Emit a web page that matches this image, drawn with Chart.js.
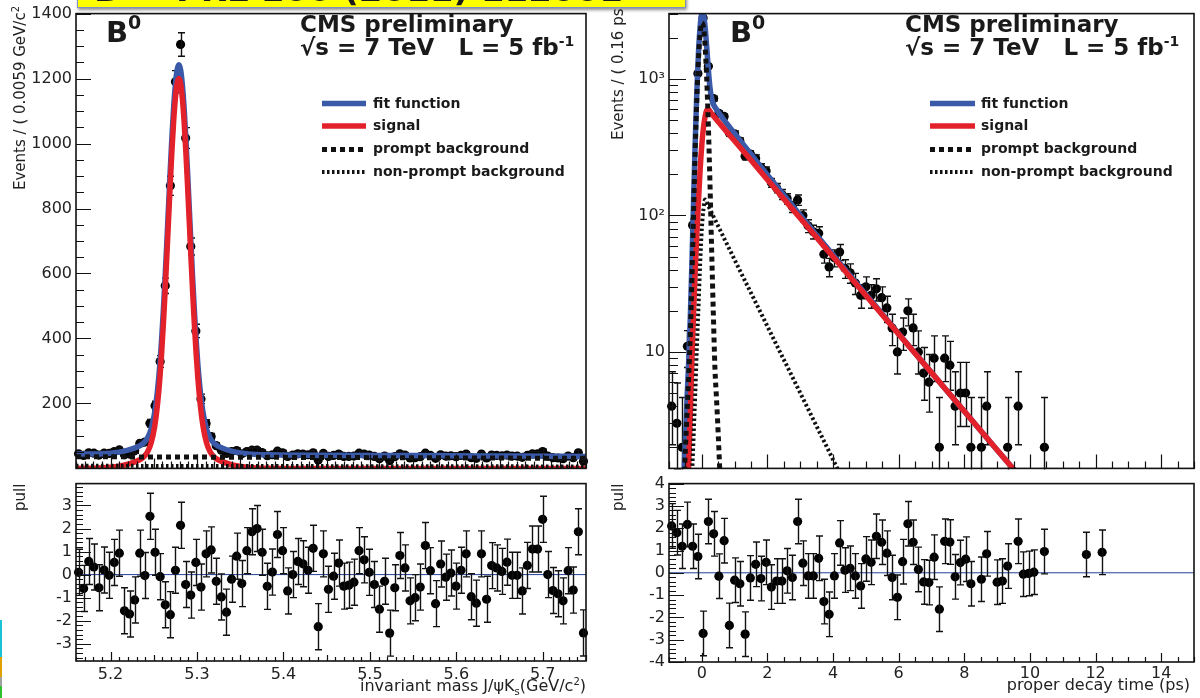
<!DOCTYPE html>
<html>
<head>
<meta charset="utf-8">
<title>B0 invariant mass and proper decay time fits</title>
<script src="https://cdn.jsdelivr.net/npm/chart.js@4.4.1/dist/chart.umd.min.js"></script>
<style>
  html, body { margin: 0; padding: 0; background: #fff; }
  #page { position: relative; width: 1200px; height: 698px; overflow: hidden; background: #fff;
          font-family: "DejaVu Sans", "Liberation Sans", sans-serif; color: #1a1a1a; }
  #page canvas { position: absolute; }
  .txt { position: absolute; white-space: nowrap; line-height: 1; }
  .bold { font-weight: bold; }
  .vtitle { position: absolute; white-space: nowrap; font-size: 15px; line-height: 17px;
            transform-origin: 0 0; transform: rotate(-90deg); color: #222; }
  .xtitle { position: absolute; white-space: nowrap; font-size: 16px; line-height: 16px; color: #222; text-align: right; }
  sup, sub { line-height: 0; }
</style>
</head>
<body>
<div id="page">
  <canvas id="massMain" width="600" height="482" style="left:0;top:0"></canvas>
  <canvas id="massPull" width="600" height="228" style="left:0;top:470px"></canvas>
  <canvas id="timeMain" width="600" height="482" style="left:600px;top:0"></canvas>
  <canvas id="timePull" width="600" height="228" style="left:600px;top:470px"></canvas>

  <!-- axis titles -->
  <div class="vtitle" style="left:12px;top:190px">Events / ( 0.0059 GeV/c<sup style="font-size:10px">2</sup> )</div>
  <div class="vtitle" style="left:12px;top:511px">pull</div>
  <div class="vtitle" style="left:610px;top:140px">Events / ( 0.16 ps )</div>
  <div class="vtitle" style="left:610px;top:511px">pull</div>
  <div class="xtitle" style="right:614px;top:678px">invariant mass J/&psi;K<sub style="font-size:10px">s</sub>(GeV/c<sup style="font-size:10px">2</sup>)</div>
  <div class="xtitle" style="right:10px;top:677px">proper decay time (ps)</div>

  <!-- in-frame labels, mass panel -->
  <div class="txt bold" style="left:106px;top:18px;font-size:29px">B<sup style="font-size:19px;position:relative;top:-2px">0</sup></div>
  <div class="txt bold" style="left:300px;top:13px;font-size:23px">CMS preliminary</div>
  <div class="txt bold" style="left:300px;top:36px;font-size:23px">&radic;s = 7 TeV&nbsp;&nbsp; L = 5 fb<sup style="font-size:14px">-1</sup></div>
  <div class="txt bold" style="left:373px;top:96px;font-size:14px">fit function</div>
  <div class="txt bold" style="left:373px;top:118px;font-size:14px">signal</div>
  <div class="txt bold" style="left:373px;top:141px;font-size:14px">prompt background</div>
  <div class="txt bold" style="left:373px;top:164px;font-size:14px">non-prompt background</div>

  <!-- in-frame labels, decay time panel -->
  <div class="txt bold" style="left:730px;top:18px;font-size:29px">B<sup style="font-size:19px;position:relative;top:-2px">0</sup></div>
  <div class="txt bold" style="left:905px;top:13px;font-size:23px">CMS preliminary</div>
  <div class="txt bold" style="left:905px;top:36px;font-size:23px">&radic;s = 7 TeV&nbsp;&nbsp; L = 5 fb<sup style="font-size:14px">-1</sup></div>
  <div class="txt bold" style="left:981px;top:96px;font-size:14px">fit function</div>
  <div class="txt bold" style="left:981px;top:118px;font-size:14px">signal</div>
  <div class="txt bold" style="left:981px;top:141px;font-size:14px">prompt background</div>
  <div class="txt bold" style="left:981px;top:164px;font-size:14px">non-prompt background</div>

  <!-- slide header banner (mostly above the page edge) -->
  <div style="position:absolute;left:77px;top:-22px;width:607px;height:28px;background:#ffff00;border:1px solid #7d8fc4;box-shadow:1px 2px 3px rgba(0,0,0,.45);overflow:hidden;">
    <div class="txt bold" style="left:16px;top:-7px;font-size:34px">B<sup style="font-size:22px">0</sup> &ndash; PRL 106 (2011) 112001</div>
  </div>

  <!-- slide edge strip -->
  <div style="position:absolute;left:0;top:620px;width:2px;height:37px;background:#19c3d3"></div>
  <div style="position:absolute;left:0;top:657px;width:2px;height:20px;background:#e0a000"></div>
  <div style="position:absolute;left:0;top:677px;width:2px;height:9px;background:#a0a0a0"></div>
  <div style="position:absolute;left:0;top:686px;width:2px;height:12px;background:#30c030"></div>
</div>

<script>
// ---------------- invariant mass J/psi Ks : 100 bins of 0.0059 GeV/c^2 -------------
const massBinLow = 5.16;
const massBinHigh = 5.75;
const massBinWidth = 0.0059;
const massCounts = [
  45, 40, 48, 47, 41, 47, 46, 52, 57, 42,
  44, 54, 77, 81, 139, 193, 329, 562, 870, 1190,
  1305, 1017, 683, 423, 214, 138, 98, 70, 56, 46,
  52, 55, 45, 52, 56, 56, 49, 39, 42, 53,
  48, 37, 41, 45, 44, 42, 48, 26, 46, 37,
  40, 44, 37, 37, 38, 47, 44, 41, 37, 30,
  38, 24, 36, 45, 41, 32, 33, 36, 47, 40,
  31, 42, 38, 39, 36, 40, 44, 33, 31, 44,
  32, 41, 40, 39, 41, 38, 38, 34, 40, 45,
  45, 52, 38, 33, 32, 30, 38, 33, 48, 22
];
const massPulls = [
  0.1, -0.6, 0.57, 0.33, -0.57, 0.2, -0.03, 0.53, 0.93, -1.57,
  -1.71, -1.1, 0.93, -0.04, 2.53, 0.97, -0.09, -1.31, -1.74, 0.19,
  2.14, -0.43, -0.89, 0.53, -0.54, 0.9, 1.07, -0.29, -0.97, -1.63,
  -0.2, 0.8, -0.39, 1.04, 1.86, 2.0, 0.97, -0.51, 0.11, 1.74,
  1.04, -0.71, 0.0, 0.57, 0.47, 0.19, 1.14, -2.26, 0.9, -0.64,
  -0.07, 0.5, -0.5, -0.46, -0.33, 1.04, 0.64, 0.1, -0.43, -1.5,
  -0.29, -2.54, -0.57, 0.83, 0.29, -1.14, -1.0, -0.54, 1.26, 0.17,
  -1.26, 0.46, -0.11, 0.07, -0.5, 0.19, 0.9, -0.96, -1.24, 0.9,
  -1.07, 0.39, 0.29, 0.14, 0.54, -0.03, -0.03, -0.71, 0.4, 1.11,
  1.11, 2.4, 0.0, -0.69, -0.83, -1.14, 0.17, -0.67, 1.86, -2.53
];
const massCurveX = [
  5.16, 5.18, 5.20, 5.21, 5.22,
  5.229, 5.234, 5.239, 5.243, 5.247, 5.251, 5.254, 5.257,
  5.259, 5.261, 5.263, 5.265, 5.267, 5.269, 5.271, 5.273, 5.275, 5.277, 5.279,
  5.281, 5.283, 5.285, 5.287, 5.289, 5.291, 5.293, 5.295, 5.297, 5.299,
  5.301, 5.304, 5.307, 5.311, 5.315, 5.319, 5.324, 5.329,
  5.339, 5.349, 5.359, 5.369,
  5.38, 5.40, 5.45, 5.50, 5.55, 5.60, 5.65, 5.70, 5.75
];
const massFit = [
  44, 44.4, 46.8, 50.2, 56.1,
  63.9, 70.1, 80.1, 95, 122, 171.9, 232.9, 319.8,
  395.7, 483.7, 582.7, 691.7, 804.7, 916.7, 1021.7, 1112.6, 1182.6, 1227.6, 1242.6,
  1227.6, 1182.6, 1112.5, 1021.5, 916.5, 804.5, 691.5, 582.5, 483.5, 395.4,
  319.4, 232.3, 171.3, 121.2, 94.2, 79.1, 69, 62.7,
  54, 48.2, 44.7, 42.8,
  41.9, 41.2, 40.6, 40.0, 39.4, 38.8, 38.2, 37.6, 37.0
];
const massSignal = [
  0, 0.6, 3.3, 6.8, 12.8,
  20.7, 27, 37, 52, 79, 129, 190, 277,
  353, 441, 540, 649, 762, 874, 979, 1070, 1140, 1185, 1200,
  1185, 1140, 1070, 979, 874, 762, 649, 540, 441, 353,
  277, 190, 129, 79, 52, 37, 27, 20.7,
  12.1, 6.4, 3.1, 1.3,
  0.5, 0, 0, 0, 0, 0, 0, 0, 0
];
const massBackgroundX = [5.16, 5.455, 5.75];
const massPrompt = [36, 33.5, 31];
const massNonPrompt = [8, 7, 6];
const massYTicks = [200, 400, 600, 800, 1000, 1200, 1400];
const massXTicks = [5.2, 5.3, 5.4, 5.5, 5.6, 5.7];
const massXTickLabels = ['5.2', '5.3', '5.4', '5.5', '5.6', '5.7'];
const massPullTicks = [-3, -2, -1, 0, 1, 2, 3];

// ---------------- proper decay time : 100 bins of 0.16 ps -----------------
const timeBinLow = -1;
const timeBinHigh = 15;
const timeBinWidth = 0.16;
const timeCounts = [
  4, 3, 2, 11, 85, 1100, 2800, 1240, 720, 561,
  532, 402, 396, 351, 272, 282, 262, 225, 212, 174,
  159, 143, 133, 116, 130, 100, 84, 76, 74, 52,
  42, 49, 54, 41, 38, 32, 26, 30, 26, 29,
  25, 21, 15, 10, 14, 20, 15, 10, 7, 6,
  9, 2, 9, 8, 4, 5, 5, 2, 0, 2,
  4, 0, 1, 1, 2, 0, 4, 1, 1, 1,
  0, 2, 0, 0, 0, 0, 0, 0, 0, 1,
  0, 0, 1, 0, 0, 0, 0, 0, 0, 0,
  0, 0, 0, 0, 0, 0, 0, 0, 0, 0
];
const timePulls = [
  2.1, 1.8, 1.19, 2.17, 1.19, 0.73, -2.72, 2.3, 1.75, -0.15,
  1.44, -2.36, -0.33, -0.49, -2.75, -0.23, 0.38, -0.26, 0.47, -0.64,
  -0.37, -0.37, 0.09, -0.21, 2.3, 0.43, -0.14, -0.14, 0.65, -1.29,
  -1.86, -0.14, 1.34, 0.12, 0.2, -0.14, -0.59, 0.62, 0.47, 1.64,
  1.37, 0.88, -0.21, -1.1, 0.5, 2.2, 1.37, 0.15, -0.41, -0.44,
  0.7, -1.63, 1.41, 1.38, -0.18, 0.46, 0.61, -0.49, null, -0.29,
  0.85, null, -0.42, -0.37, 0.3, null, 1.41, -0.06, -0.03, 0.03,
  null, 0.95, null, null, null, null, null, null, null, 0.82,
  null, null, 0.92, null, null, null, null, null, null, null,
  null, null, null, null, null, null, null, null, null, null
];
const timeFitX = [-0.7, -0.6, -0.5, -0.45, -0.4, -0.35, -0.3, -0.25, -0.2, -0.15,
  -0.1, -0.05, 0, 0.05, 0.1, 0.15, 0.2, 0.25, 0.3, 0.35,
  0.4, 0.5, 0.6, 0.8, 1, 1.5, 2, 2.5, 3, 3.5,
  4, 4.5, 5, 6, 7, 8, 9, 10, 11];
const timeFit = [0.1, 0.53, 2.29, 4.55, 8.5, 18, 46.2, 130.5, 355, 831,
  1587, 2443, 2997, 2955, 2407, 1711, 1166, 861, 717, 658,
  622, 573, 531, 459, 399, 281, 198, 141, 100.5, 71.8,
  51.4, 36.8, 26.4, 13.6, 7.05, 3.67, 1.91, 1.0, 0.52];
const timeSignalX = [-0.6, -0.5, -0.45, -0.4, -0.35, -0.3, -0.25, -0.2, -0.15, -0.1,
  -0.05, 0, 0.05, 0.1, 0.15, 0.2, 0.25, 0.3, 0.4, 0.5,
  0.6, 0.8, 1, 1.5, 2, 2.5, 3, 3.5, 4, 4.5,
  5, 6, 7, 8, 9, 10, 11];
const timeSignal = [0.05, 0.3, 0.8, 1.5, 3.5, 9, 20, 40, 75, 130,
  220, 330, 440, 530, 590, 598, 582, 557, 521, 487,
  456, 400, 352, 254, 183, 132, 95.5, 68.9, 49.8, 35.9,
  25.9, 13.5, 7.05, 3.67, 1.91, 1.0, 0.52];
const timePromptX = [-0.7, -0.6, -0.5, -0.45, -0.4, -0.35, -0.3, -0.25, -0.2, -0.15,
  -0.1, -0.05, 0, 0.05, 0.1, 0.15, 0.2, 0.25, 0.3, 0.35,
  0.4, 0.45, 0.5, 0.55, 0.6, 0.7];
const timePrompt = [0.1, 0.48, 1.94, 3.6, 6.7, 13.8, 36, 108, 310, 745,
  1435, 2178, 2587, 2403, 1746, 996, 451, 168, 55.5, 19.7,
  7.6, 4.45, 2.5, 1.3, 0.64, 0.13];
const timeNonPromptX = [-0.5, -0.4, -0.3, -0.2, -0.15, -0.1, -0.05, 0, 0.05, 0.1,
  0.2, 0.3, 0.4, 0.5, 0.6, 0.8, 1, 1.5, 2, 2.5,
  3, 3.5, 4, 4.5, 5];
const timeNonPrompt = [0.05, 0.3, 1.2, 5, 11, 22, 45, 80, 112, 131,
  117, 104.6, 93.4, 83.4, 74.5, 59.4, 47.4, 27.0, 15.4, 8.77,
  5.0, 2.85, 1.62, 0.92, 0.53];
const timeYTicks = [10, 100, 1000];
const timeYTickLabels = ['10', '10\u00B2', '10\u00B3'];
const timeXTicks = [0, 2, 4, 6, 8, 10, 12, 14];
const timePullTicks = [-4, -3, -2, -1, 0, 1, 2, 3, 4];

// 68.3% Poisson intervals for small counts (index = observed count)
const poissonLow = [0, 0.173, 0.708, 1.367, 2.086, 2.840, 3.620, 4.419, 5.232, 6.057, 6.891];
const poissonHigh = [1.841, 3.300, 4.638, 5.918, 7.163, 8.382, 9.584, 10.77, 11.95, 13.11, 14.27];

// ---------------- styling --------------------------------------------------
const FIT_BLUE = '#3a59a8';
const SIGNAL_RED = '#e3212b';
const INK = '#111111';
const ZERO_BLUE = '#23409c';
Chart.defaults.font.family = "'DejaVu Sans', 'Liberation Sans', sans-serif";

// ---------------- helpers --------------------------------------------------
const pts = (xs, ys) => xs.map((x, i) => ({ x, y: ys[i] }));
const binCentre = (low, width, i) => low + width * (i + 0.5);
function ladder(lo, hi, step) {
  const out = [], n = Math.round((hi - lo) / step);
  for (let k = 0; k <= n; k++) out.push(+(lo + k * step).toFixed(6));
  return out;
}
const isMult = (v, s) => Math.abs(v / s - Math.round(v / s)) < 1e-6;

const massPoints = massCounts.map((n, i) => ({
  x: binCentre(massBinLow, massBinWidth, i), y: n, lo: n - Math.sqrt(n), hi: n + Math.sqrt(n)
}));
const massPullPoints = massPulls.map((p, i) => ({
  x: binCentre(massBinLow, massBinWidth, i), y: p, lo: p - 1, hi: p + 1
}));
const timePoints = [];
timeCounts.forEach((n, i) => {
  if (n <= 0) return;
  const lo = n <= 10 ? poissonLow[n] : n - Math.sqrt(n);
  const hi = n <= 10 ? poissonHigh[n] : n + Math.sqrt(n);
  timePoints.push({ x: binCentre(timeBinLow, timeBinWidth, i), y: n, lo, hi });
});
const timePullPoints = [];
timePulls.forEach((p, i) => {
  if (p === null) return;
  timePullPoints.push({ x: binCentre(timeBinLow, timeBinWidth, i), y: p, lo: p - 1, hi: p + 1 });
});

// ---------------- frame, tick marks and key samples per panel -------------
const keyRows = [
  { y: 103.5, color: FIT_BLUE, width: 5.5 },
  { y: 126, color: SIGNAL_RED, width: 5.5 },
  { y: 149.5, color: INK, width: 5, dash: [5, 4] },
  { y: 172, color: INK, width: 4, dash: [2.5, 2.5] }
];
const decor = {
  massMain: {
    xMarks: ladder(massBinLow, massBinHigh, 0.01).map(v => [v, isMult(v, 0.1) ? 14 : isMult(v, 0.05) ? 10 : 7]),
    yMarks: ladder(0, 1400, 50).map(v => [v, v % 200 === 0 ? 15 : 8]),
    keys: { x0: 322, x1: 366, rows: keyRows }
  },
  massPull: {
    xMarks: ladder(massBinLow, massBinHigh, 0.01).map(v => [v, isMult(v, 0.1) ? 9 : isMult(v, 0.05) ? 6 : 4]),
    yMarks: ladder(-3.6, 3.8, 0.2).map(v => [v, isMult(v, 1) ? 15 : 7])
  },
  timeMain: {
    xMarks: ladder(timeBinLow, timeBinHigh, 0.5).map(v => [v, isMult(v, 2) ? 14 : 7]),
    yMarks: [1, 10, 100, 1000].flatMap(d => [2, 3, 4, 5, 6, 7, 8, 9].map(k => [k * d, 9]))
      .concat(timeYTicks.map(v => [v, 17])),
    keys: { x0: 330, x1: 375, rows: keyRows }
  },
  timePull: {
    xMarks: ladder(timeBinLow, timeBinHigh, 0.5).map(v => [v, isMult(v, 2) ? 9 : 5]),
    yMarks: ladder(-4, 4, 0.2).map(v => [v, isMult(v, 1) ? 15 : 7])
  }
};

const rootFrame = {
  id: 'rootFrame',
  afterDraw(chart) {
    const d = decor[chart.canvas.id];
    if (!d) return;
    const { ctx, chartArea: a } = chart;
    const xs = chart.scales.x, ys = chart.scales.y;
    ctx.save();
    ctx.strokeStyle = INK;
    ctx.lineWidth = 1.2;
    ctx.beginPath();
    d.xMarks.forEach(([v, len]) => {
      const p = Math.round(xs.getPixelForValue(v)) + 0.5;
      if (p < a.left - 1 || p > a.right + 1) return;
      ctx.moveTo(p, a.bottom); ctx.lineTo(p, a.bottom - len);
    });
    d.yMarks.forEach(([v, len]) => {
      const p = Math.round(ys.getPixelForValue(v)) + 0.5;
      if (p < a.top - 1 || p > a.bottom + 1) return;
      ctx.moveTo(a.left, p); ctx.lineTo(a.left + len, p);
    });
    ctx.stroke();
    ctx.lineWidth = 1.6;
    ctx.strokeRect(a.left, a.top, a.right - a.left, a.bottom - a.top);
    if (d.keys) {
      d.keys.rows.forEach(r => {
        ctx.save();
        ctx.strokeStyle = r.color;
        ctx.lineWidth = r.width;
        ctx.lineCap = 'butt';
        ctx.setLineDash(r.dash || []);
        ctx.beginPath();
        ctx.moveTo(d.keys.x0, r.y); ctx.lineTo(d.keys.x1, r.y);
        ctx.stroke();
        ctx.restore();
      });
    }
    ctx.restore();
  }
};

// vertical error bars drawn right after the data markers of a dataset
const dataErrors = {
  id: 'dataErrors',
  afterDatasetDraw(chart, args) {
    const ds = chart.data.datasets[args.index];
    if (!ds.withErrors) return;
    const { ctx, chartArea: a } = chart;
    const xs = chart.scales.x, ys = chart.scales.y;
    const floor = ys.type === 'logarithmic' ? ys.min / 10 : -1e9;
    ctx.save();
    ctx.beginPath();
    ctx.rect(a.left, a.top - 1, a.right - a.left, a.bottom - a.top + 2);
    ctx.clip();
    ctx.strokeStyle = INK;
    ctx.lineWidth = 1.4;
    ctx.beginPath();
    ds.data.forEach(p => {
      if (p.y < ys.min) return;
      const px = Math.round(xs.getPixelForValue(p.x)) + 0.5;
      const yLo = ys.getPixelForValue(Math.max(p.lo, floor));
      const yHi = ys.getPixelForValue(p.hi);
      ctx.moveTo(px, yLo); ctx.lineTo(px, yHi);
      ctx.moveTo(px - 3.5, yHi); ctx.lineTo(px + 3.5, yHi);
      ctx.moveTo(px - 3.5, yLo); ctx.lineTo(px + 3.5, yLo);
    });
    ctx.stroke();
    ctx.restore();
  }
};

const tickFont = { family: "'DejaVu Sans', sans-serif", size: 16 };
function baseOptions(padding) {
  return {
    responsive: false, animation: false, devicePixelRatio: 1, events: [],
    layout: { padding },
    plugins: { legend: { display: false }, tooltip: { enabled: false } }
  };
}
function curve(data, color, width, dash, clip) {
  return { data, showLine: true, borderColor: color, borderWidth: width, borderDash: dash || [],
           borderCapStyle: 'butt', pointRadius: 0, cubicInterpolationMode: 'monotone', fill: false,
           clip: clip };
}
function markers(data, clip) {
  return { data, showLine: false, pointRadius: 4.6, pointBackgroundColor: '#000',
           pointBorderWidth: 0, withErrors: true, clip };
}
function yAxis(extra, ticks, labels, width) {
  return Object.assign({
    grid: { display: false, drawTicks: false }, border: { display: false },
    afterFit: s => { s.width = width; },
    afterBuildTicks: s => { s.ticks = ticks.map(v => ({ value: v })); },
    ticks: { font: tickFont, color: '#222', padding: 4, autoSkip: false,
             callback: v => labels ? labels[ticks.indexOf(v)] : String(v) }
  }, extra);
}
function xAxis(extra, ticks, labels, height, pad) {
  return Object.assign({
    type: 'linear', position: 'bottom',
    grid: { display: false, drawTicks: false }, border: { display: false },
    afterFit: s => { s.height = height; },
    afterBuildTicks: s => { s.ticks = ticks.map(v => ({ value: v })); },
    ticks: { font: tickFont, color: '#222', padding: pad, autoSkip: false, maxRotation: 0,
             callback: v => labels ? labels[ticks.indexOf(v)] : String(v) }
  }, extra);
}

// ---------------- mass spectrum ----------------
new Chart(document.getElementById('massMain'), {
  type: 'scatter',
  data: { datasets: [
    curve(pts(massBackgroundX, massNonPrompt), INK, 4, [2.5, 2.5]),
    curve(pts(massBackgroundX, massPrompt), INK, 5, [5, 4]),
    curve(pts(massCurveX, massSignal), SIGNAL_RED, 5.5),
    curve(pts(massCurveX, massFit), FIT_BLUE, 5.5),
    markers(massPoints, 8)
  ] },
  options: Object.assign(baseOptions({ top: 11, right: 14, bottom: 3, left: 0 }), {
    scales: {
      x: { type: 'linear', min: massBinLow, max: massBinHigh, display: false },
      y: yAxis({ type: 'linear', min: 0, max: 1400 }, massYTicks, null, 76)
    }
  }),
  plugins: [dataErrors, rootFrame]
});

new Chart(document.getElementById('massPull'), {
  type: 'scatter',
  data: { datasets: [
    markers(massPullPoints, 6),
    curve([{ x: massBinLow, y: 0 }, { x: massBinHigh, y: 0 }], ZERO_BLUE, 1)
  ] },
  options: Object.assign(baseOptions({ top: 11, right: 14, bottom: 0, left: 0 }), {
    scales: {
      x: xAxis({ min: massBinLow, max: massBinHigh }, massXTicks, massXTickLabels, 37, 4),
      y: yAxis({ type: 'linear', min: -3.75, max: 3.95 }, massPullTicks, null, 76)
    }
  }),
  plugins: [dataErrors, rootFrame]
});

// ---------------- proper decay time ----------------
new Chart(document.getElementById('timeMain'), {
  type: 'scatter',
  data: { datasets: [
    curve(pts(timeNonPromptX, timeNonPrompt), INK, 4, [2.5, 2.5], 0),
    curve(pts(timePromptX, timePrompt), INK, 5, [5, 4], 0),
    curve(pts(timeSignalX, timeSignal), SIGNAL_RED, 5.5, null, 0),
    curve(pts(timeFitX, timeFit), FIT_BLUE, 5.5, null, 0),
    markers(timePoints, 6)
  ] },
  options: Object.assign(baseOptions({ top: 7, right: 6, bottom: 2, left: 0 }), {
    scales: {
      x: { type: 'linear', min: timeBinLow, max: timeBinHigh, display: false },
      y: yAxis({ type: 'logarithmic', min: 1.4, max: 3020 }, timeYTicks, timeYTickLabels, 69)
    }
  }),
  plugins: [dataErrors, rootFrame]
});

new Chart(document.getElementById('timePull'), {
  type: 'scatter',
  data: { datasets: [
    markers(timePullPoints, 6),
    curve([{ x: timeBinLow, y: 0 }, { x: timeBinHigh, y: 0 }], ZERO_BLUE, 1)
  ] },
  options: Object.assign(baseOptions({ top: 13, right: 6, bottom: 0, left: 0 }), {
    scales: {
      x: xAxis({ min: timeBinLow, max: timeBinHigh }, timeXTicks, null, 36, 2),
      y: yAxis({ type: 'linear', min: -4, max: 4 }, timePullTicks, null, 69)
    }
  }),
  plugins: [dataErrors, rootFrame]
});
</script>
</body>
</html>
